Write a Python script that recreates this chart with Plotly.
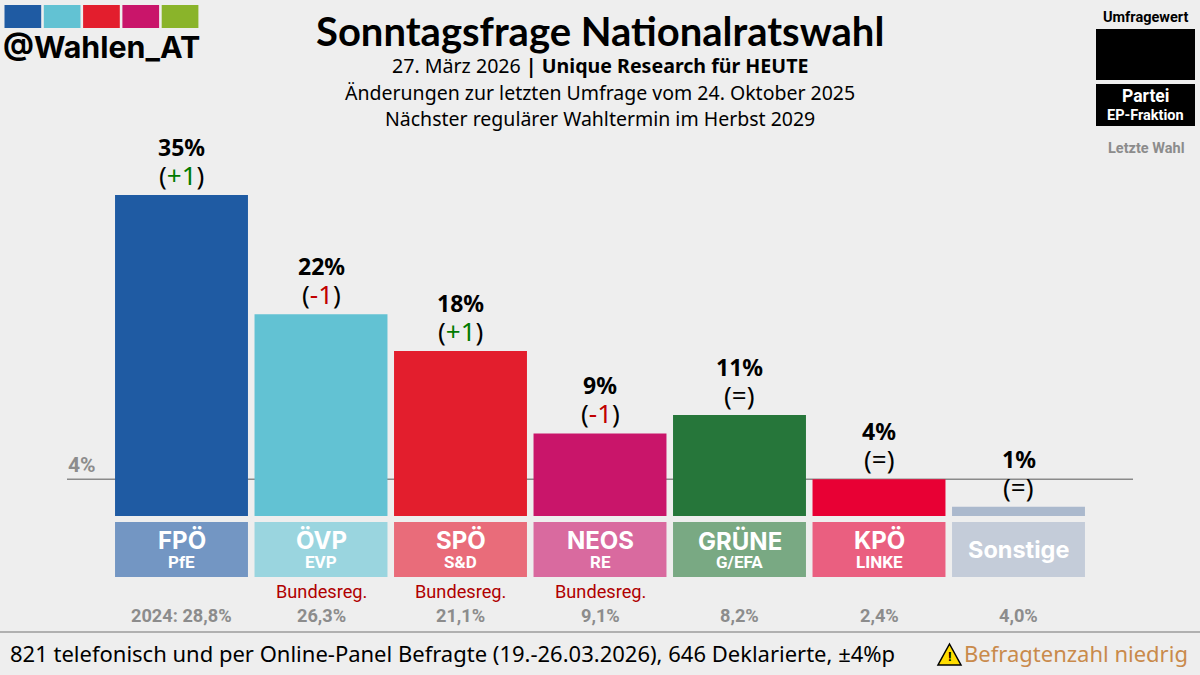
import plotly.graph_objects as go

W, H = 1200, 675
BG = "#eeeeee"

parties = ["FPÖ", "ÖVP", "SPÖ", "NEOS", "GRÜNE", "KPÖ", "Sonstige"]
factions = ["PfE", "EVP", "S&D", "RE", "G/EFA", "LINKE", ""]
values = [35, 22, 18, 9, 11, 4, 1]
changes = ["+1", "-1", "+1", "-1", "=", "=", "="]
last_vote = ["2024: 28,8%", "26,3%", "21,1%", "9,1%", "8,2%", "2,4%", "4,0%"]
government = ["", "Bundesreg.", "Bundesreg.", "Bundesreg.", "", "", ""]
bar_colors = ["#1f5ba3", "#62c2d3", "#e31e2d", "#c9156a", "#26763a", "#e80034", "#abb9cd"]
label_colors = ["#7396c3", "#9ad5df", "#e96c7a", "#d96a9f", "#79a983", "#ea5f80", "#c4ccd9"]
logo_colors = ["#1f5ba3", "#62c2d3", "#e31e2d", "#c9156a", "#8ab42a"]
threshold = 4


def px(x):
    return x / W


def py(y):
    return 1 - y / H


fig = go.Figure()
fig.add_bar(x=parties, y=values, marker=dict(color=bar_colors, line_width=0),
            xaxis="x", yaxis="y", hoverinfo="skip")
fig.add_bar(x=parties, y=[1] * len(parties), marker=dict(color=label_colors, line_width=0),
            xaxis="x", yaxis="y2", hoverinfo="skip")

annotations = []


def text(x, y, s, size, color="#000000", family="Roboto", anchor="center", **kw):
    annotations.append(dict(x=px(x), y=py(y), xref="paper", yref="paper", text=s, showarrow=False,
                            xanchor=anchor, yanchor="middle",
                            font=dict(size=size, color=color, family=family), **kw))


text(600, 31, "<b>Sonntagsfrage Nationalratswahl</b>", 40, family="Lato")
text(600, 66, "27. März 2026 <b>| Unique Research für HEUTE</b>", 19.6, family="Noto Sans")
text(600, 92, "Änderungen zur letzten Umfrage vom 24. Oktober 2025", 19.5, family="Noto Sans")
text(600, 119, "Nächster regulärer Wahltermin im Herbst 2029", 19.5, family="Noto Sans")
text(101.5, 47, "<b>@Wahlen_AT</b>", 30.4, family="Inter")
text(1145.5, 17, "<b>Umfragewert</b>", 14.5)
text(1145.5, 96, "<b>Partei</b>", 17.5, color="#ffffff")
text(1145.5, 116, "<b>EP-Fraktion</b>", 14.5, color="#ffffff")
text(1145.5, 149, "<b>Letzte Wahl</b>", 14.5, color="#8c8c8c")
text(82, 465, "<b>4%</b>", 21, color="#8c8c8c")
text(8, 653, "821 telefonisch und per Online-Panel Befragte (19.-26.03.2026), 646 Deklarierte, ±4%p",
     22, family="Noto Sans", anchor="left")
text(962, 653, "Befragtenzahl niedrig", 22, color="#c98a4b", family="Noto Sans", anchor="left")
text(949.5, 656, "<b>!</b>", 13, family="Roboto")

for i, p in enumerate(parties):
    c = changes[i]
    col = {"+": "#007a00", "-": "#c00000"}.get(c[0], "#000000")
    ch = f'(<span style="color:{col}">{c}</span>)'
    annotations.append(dict(x=p, y=values[i], xref="x", yref="y", text=f"<b>{values[i]}%</b>", showarrow=False,
                            yshift=48, font=dict(size=23, family="Noto Sans", color="#000000")))
    annotations.append(dict(x=p, y=values[i], xref="x", yref="y", text=ch, showarrow=False,
                            yshift=20, font=dict(size=26, family="Noto Sans", color="#000000")))
    if factions[i]:
        annotations.append(dict(x=p, y=0.5, xref="x", yref="y2", text=f"<b>{p}</b>", showarrow=False,
                                yshift=9, font=dict(size=24, family="Inter", color="#ffffff")))
        annotations.append(dict(x=p, y=0.5, xref="x", yref="y2", text=f"<b>{factions[i]}</b>", showarrow=False,
                                yshift=-12.5, font=dict(size=17, family="Roboto", color="#ffffff")))
    else:
        annotations.append(dict(x=p, y=0.5, xref="x", yref="y2", text=f"<b>{p}</b>", showarrow=False,
                                font=dict(size=23.5, family="Inter", color="#ffffff")))
    if government[i]:
        annotations.append(dict(x=p, y=0, xref="x", yref="y2", text=government[i], showarrow=False,
                                yshift=-14.5, font=dict(size=18.2, family="Roboto", color="#b00000")))
    annotations.append(dict(x=p, y=0, xref="x", yref="y2", text=f"<b>{last_vote[i]}</b>", showarrow=False,
                            yshift=-38.5, font=dict(size=18.2, family="Roboto", color="#8c8c8c")))

shapes = [
    dict(type="line", xref="paper", yref="y", x0=px(67), x1=px(1133), y0=threshold, y1=threshold,
         line=dict(color="#8a8a8a", width=1.5), layer="below"),
    dict(type="line", xref="paper", yref="paper", x0=0, x1=1, y0=py(632), y1=py(632),
         line=dict(color="#b0b0b0", width=2)),
    dict(type="rect", xref="paper", yref="paper", x0=px(1096), x1=px(1195), y0=py(80), y1=py(29),
         fillcolor="#000000", line_width=0),
    dict(type="rect", xref="paper", yref="paper", x0=px(1096), x1=px(1195), y0=py(126), y1=py(84),
         fillcolor="#000000", line_width=0),
    dict(type="path", xref="paper", yref="paper",
         path=f"M {px(949.5)} {py(644)} L {px(961)} {py(665)} L {px(938)} {py(665)} Z",
         fillcolor="#ffdd00", line=dict(color="#000000", width=1.5)),
]
for i, c in enumerate(logo_colors):
    x0 = 4.5 + 39.3 * i
    shapes.append(dict(type="rect", xref="paper", yref="paper", x0=px(x0), x1=px(x0 + 36.7),
                       y0=py(28), y1=py(5), fillcolor=c, line_width=0))

fig.update_layout(
    width=W, height=H, margin=dict(l=0, r=0, t=0, b=0), autosize=False,
    paper_bgcolor=BG, plot_bgcolor="rgba(0,0,0,0)", showlegend=False,
    barmode="overlay", bargap=0.047,
    xaxis=dict(domain=[111.75 / W, 1088.25 / W], range=[-0.5, 6.5], visible=False, type="category",
               categoryorder="array", categoryarray=parties, anchor="y"),
    yaxis=dict(domain=[py(516), py(195)], range=[0, 35], visible=False),
    yaxis2=dict(domain=[py(577), py(522)], range=[0, 1], visible=False, anchor="x"),
    annotations=annotations, shapes=shapes,
)
fig.write_html("out.html", config=dict(displayModeBar=False),
               post_script="document.body.style.margin='0';")
